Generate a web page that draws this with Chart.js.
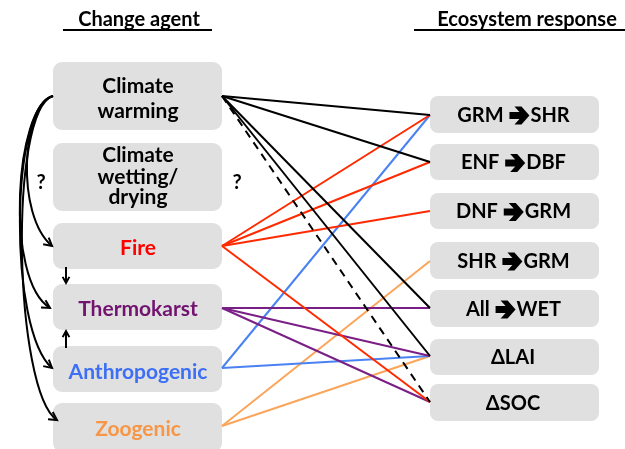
<!DOCTYPE html>
<html>
<head>
<meta charset="utf-8">
<script src="https://cdn.jsdelivr.net/npm/chart.js@4"></script>
<style>
  html, body { margin: 0; padding: 0; background: #fff; }
  #wrap { width: 625px; height: 449px; }
</style>
</head>
<body>
<div id="wrap"><canvas id="diagram" width="625" height="449"></canvas></div>
<script>
// diagram content
const agents = [['Climate', 'warming'], ['Climate', 'wetting/', 'drying'], ['Fire'], ['Thermokarst'], ['Anthropogenic'], ['Zoogenic']];
const agentColors = ['#000000', '#000000', '#ff0000', '#72136f', '#3c6ff5', '#f79646'];
const responses = [['GRM', 'SHR'], ['ENF', 'DBF'], ['DNF', 'GRM'], ['SHR', 'GRM'], ['All', 'WET'], ['\u0394LAI'], ['\u0394SOC']];
// links: [agent index, response index, dashed]
const links = [
  [0, 0, false], [0, 1, false], [0, 4, false], [0, 5, false], [0, 6, true],
  [2, 0, false], [2, 1, false], [2, 2, false], [2, 6, false],
  [3, 4, false], [3, 5, false], [3, 6, false],
  [4, 0, false], [4, 5, false],
  [5, 3, false], [5, 5, false]
];
// climate warming drives these agents (curved arrows on the left)
const drivenBy = [2, 3, 4, 5];

// layout (pixel units of the scales)
const agentBox = { x0: 53, x1: 222 };
const agentRows = [[62, 130], [143, 211], [223, 269], [284, 330], [346, 392], [403, 452]];
const agentAnchor = [96, 177, 246, 308, 368, 426];
const agentTextY = [[86, 111], [155, 177, 197], [248], [309], [372], [429]];
const respBox = { x0: 430, x1: 599 };
const respRows = [[96, 133], [144, 180], [193, 229], [242, 279], [290, 327], [339, 375], [384, 421]];
const respAnchor = [115, 162, 211, 261, 308, 356, 402];
const lineColors = ['#000000', '#000000', '#ff2a00', '#7a1f86', '#4a82f2', '#fba55a'];
const curves = {
  2: [[22, 105], [15, 215], [52, 246]],
  3: [[15, 105], [4, 280], [50, 308]],
  4: [[10, 105], [8, 330], [52, 368]],
  5: [[8, 110], [14, 392], [57, 420]]
};

const FONT = 'Lato, "Open Sans", sans-serif';

const datasets = links.map(([a, r, dashed]) => ({
  data: [{ x: agentBox.x1, y: agentAnchor[a] }, { x: respBox.x0, y: respAnchor[r] }],
  showLine: true,
  borderColor: lineColors[a],
  borderWidth: 2,
  borderDash: dashed ? [8, 6] : [],
  pointRadius: 0,
  fill: false
}));

function roundBox(ctx, x0, y0, x1, y1, r) {
  ctx.beginPath();
  ctx.roundRect(x0, y0, x1 - x0, y1 - y0, r);
  ctx.fillStyle = '#e0e0e0';
  ctx.fill();
}

function arrowHead(ctx, x, y, dx, dy, size) {
  const a = Math.atan2(dy, dx);
  ctx.beginPath();
  ctx.moveTo(x - size * Math.cos(a - 0.5), y - size * Math.sin(a - 0.5));
  ctx.lineTo(x, y);
  ctx.lineTo(x - size * Math.cos(a + 0.5), y - size * Math.sin(a + 0.5));
  ctx.stroke();
}

const diagramPlugin = {
  id: 'diagram',
  beforeDatasetsDraw(chart) {
    const { ctx, scales: { x, y } } = chart;
    const px = v => x.getPixelForValue(v), py = v => y.getPixelForValue(v);
    ctx.save();
    agentRows.forEach(([t, b]) => roundBox(ctx, px(agentBox.x0), py(t), px(agentBox.x1), py(b), 9));
    respRows.forEach(([t, b]) => roundBox(ctx, px(respBox.x0), py(t), px(respBox.x1), py(b), 8));

    // curved arrows from climate warming
    ctx.strokeStyle = '#000';
    ctx.lineWidth = 2;
    drivenBy.forEach(i => {
      const [c1, c2, e] = curves[i];
      ctx.beginPath();
      ctx.moveTo(px(agentBox.x0), py(agentAnchor[0]));
      ctx.bezierCurveTo(px(c1[0]), py(c1[1]), px(c2[0]), py(c2[1]), px(e[0]), py(e[1]));
      ctx.stroke();
      arrowHead(ctx, px(e[0]), py(e[1]), px(e[0]) - px(c2[0]), py(e[1]) - py(c2[1]), 9);
    });
    // small arrows into thermokarst
    ctx.beginPath();
    ctx.moveTo(px(66), py(267)); ctx.lineTo(px(66), py(283));
    ctx.moveTo(px(66), py(348)); ctx.lineTo(px(66), py(331));
    ctx.stroke();
    arrowHead(ctx, px(66), py(283), 0, 1, 7);
    arrowHead(ctx, px(66), py(331), 0, -1, 7);
    ctx.restore();
  },
  afterDatasetsDraw(chart) {
    const { ctx, scales: { x, y } } = chart;
    const px = v => x.getPixelForValue(v), py = v => y.getPixelForValue(v);
    ctx.save();
    ctx.textAlign = 'center';
    ctx.textBaseline = 'middle';

    // headings
    ctx.fillStyle = '#000';
    ctx.font = 'bold 20px ' + FONT;
    ctx.fillText('Change agent', px(139), py(20));
    ctx.fillText('Ecosystem response', px(527), py(20));
    ctx.fillRect(px(63), py(29), 149, 2);
    ctx.fillRect(px(414), py(29), 211, 2);

    // agent labels
    ctx.font = 'bold 21px ' + FONT;
    agents.forEach((lines, i) => {
      ctx.fillStyle = agentColors[i];
      lines.forEach((s, k) => ctx.fillText(s, px(138), py(agentTextY[i][k])));
    });

    // question marks
    ctx.fillStyle = '#000';
    ctx.font = 'bold 20px ' + FONT;
    ctx.fillText('?', px(41), py(183));
    ctx.fillText('?', px(237), py(183));

    // response labels
    ctx.font = 'bold 20px ' + FONT;
    responses.forEach((parts, i) => {
      const cy = py((respRows[i][0] + respRows[i][1]) / 2 + 1);
      const cx = px(513);
      if (parts.length === 1) {
        ctx.textAlign = 'center';
        ctx.fillText(parts[0], cx, cy);
        return;
      }
      const wA = ctx.measureText(parts[0] + ' ').width;
      const wArrow = 21;
      const wB = ctx.measureText(parts[1]).width;
      const sx = cx - (wA + wArrow + wB) / 2;
      ctx.textAlign = 'left';
      ctx.fillText(parts[0] + ' ', sx, cy);
      // block arrow glyph
      const ax = sx + wA + 1;
      ctx.beginPath();
      ctx.moveTo(ax, cy - 3.5);
      ctx.lineTo(ax + 10, cy - 3.5);
      ctx.lineTo(ax + 5, cy - 9);
      ctx.lineTo(ax + 12, cy - 9);
      ctx.lineTo(ax + 20, cy);
      ctx.lineTo(ax + 12, cy + 9);
      ctx.lineTo(ax + 5, cy + 9);
      ctx.lineTo(ax + 10, cy + 3.5);
      ctx.lineTo(ax, cy + 3.5);
      ctx.closePath();
      ctx.fill();
      ctx.fillText(parts[1], ax + wArrow, cy);
    });
    ctx.restore();
  }
};

new Chart(document.getElementById('diagram'), {
  type: 'scatter',
  data: { datasets },
  options: {
    responsive: false,
    animation: false,
    layout: { padding: 0 },
    plugins: { legend: { display: false }, tooltip: { enabled: false } },
    scales: {
      x: { type: 'linear', min: 0, max: 625, display: false },
      y: { type: 'linear', min: 0, max: 449, reverse: true, display: false }
    }
  },
  plugins: [diagramPlugin]
});
</script>
</body>
</html>
